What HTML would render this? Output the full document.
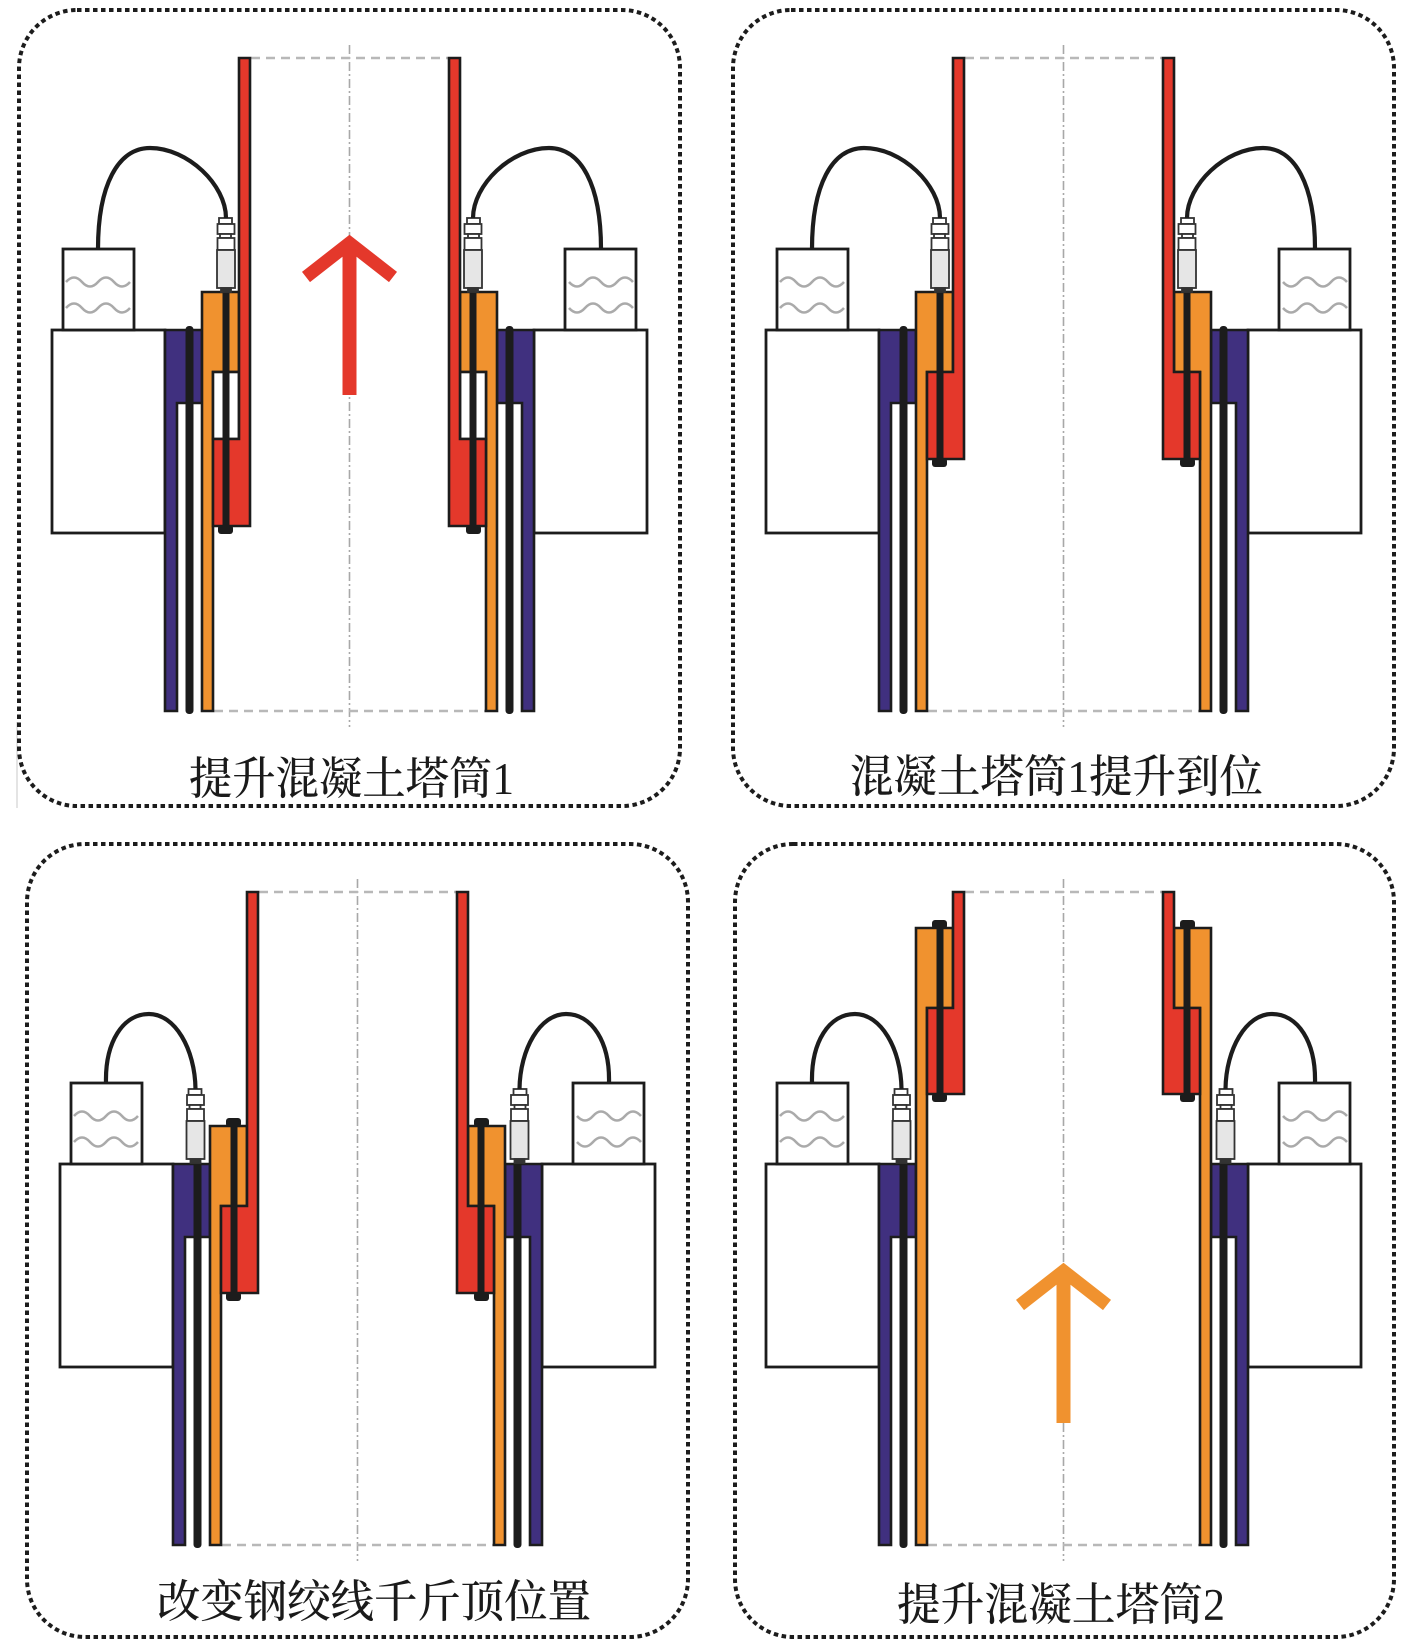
<!DOCTYPE html>
<html>
<head>
<meta charset="utf-8">
<style>
  html,body{margin:0;padding:0;background:#fff;}
  svg{display:block;}
</style>
</head>
<body>
<svg width="1417" height="1652" viewBox="0 0 1417 1652" xmlns="http://www.w3.org/2000/svg">
<defs>
  <g id="conn" stroke="#333" stroke-width="1.8">
    <rect x="219" y="218" width="13" height="6" fill="#fff"/>
    <rect x="217.5" y="224" width="17" height="10" fill="#fff"/>
    <rect x="220" y="234" width="11" height="4" fill="#fff"/>
    <rect x="217.5" y="238" width="17" height="12" fill="#fff"/>
    <rect x="217" y="250" width="18" height="38" fill="#e6e6e6"/>
    <rect x="221" y="288" width="10" height="4" fill="#333"/>
  </g>
  <g id="common">
    <rect x="52" y="330" width="113" height="203" fill="#fff" stroke="#1c1c1c" stroke-width="2.8"/>
    <rect x="63" y="249" width="71" height="81" fill="#fff" stroke="#1c1c1c" stroke-width="2.8"/>
    <path d="M66 282 q8 -9 16 0 t16 0 t16 0 t16 0" fill="none" stroke="#aaaaaa" stroke-width="2.5"/>
    <path d="M66 308 q8 -9 16 0 t16 0 t16 0 t16 0" fill="none" stroke="#aaaaaa" stroke-width="2.5"/>
    <path d="M165 330 H202 V403 H177 V711 H165 Z" fill="#40307F" stroke="#1c1c1c" stroke-width="2.6"/>
    <rect x="185.5" y="326" width="8" height="388" rx="3.5" fill="#1c1c1c"/>
  </g>
  <g id="lines" fill="none">
    <line x1="349.5" y1="45" x2="349.5" y2="727" stroke="#a8a8a8" stroke-width="1.6" stroke-dasharray="9 3 2 3"/>
    <line x1="251" y1="58" x2="448" y2="58" stroke="#b8b8b8" stroke-width="2.5" stroke-dasharray="9 6"/>
    <line x1="214" y1="711" x2="485" y2="711" stroke="#b8b8b8" stroke-width="2.5" stroke-dasharray="9 6"/>
  </g>

  <g id="tlL">
    <use href="#common"/>
    <path d="M202 292 H239 V372 H213 V711 H202 Z" fill="#F0922F" stroke="#1c1c1c" stroke-width="2.6"/>
    <rect x="213" y="372" width="26" height="67" fill="#fff" stroke="#1c1c1c" stroke-width="2.6"/>
    <path d="M239 58 H250 V526 H213 V439 H239 Z" fill="#E4382B" stroke="#1c1c1c" stroke-width="2.6"/>
    <rect x="222.5" y="290" width="7" height="240" fill="#1c1c1c"/>
    <rect x="218" y="525" width="15" height="9" rx="3" fill="#1c1c1c"/>
    <use href="#conn"/>
    <path d="M98 249 C98 185 118 148 150 148 C188 148 226 185 226 218" fill="none" stroke="#1c1c1c" stroke-width="4.2"/>
  </g>

  <g id="trL">
    <use href="#common"/>
    <path d="M202 292 H239 V372 H213 V711 H202 Z" fill="#F0922F" stroke="#1c1c1c" stroke-width="2.6"/>
    <path d="M239 58 H250 V459 H213 V372 H239 Z" fill="#E4382B" stroke="#1c1c1c" stroke-width="2.6"/>
    <rect x="222.5" y="290" width="7" height="172" fill="#1c1c1c"/>
    <rect x="218" y="458" width="15" height="9" rx="3" fill="#1c1c1c"/>
    <use href="#conn"/>
    <path d="M98 249 C98 185 118 148 150 148 C188 148 226 185 226 218" fill="none" stroke="#1c1c1c" stroke-width="4.2"/>
  </g>

  <g id="blL">
    <use href="#common"/>
    <path d="M202 292 H239 V372 H213 V711 H202 Z" fill="#F0922F" stroke="#1c1c1c" stroke-width="2.6"/>
    <path d="M239 58 H250 V459 H213 V372 H239 Z" fill="#E4382B" stroke="#1c1c1c" stroke-width="2.6"/>
    <rect x="222.5" y="287" width="7" height="175" fill="#1c1c1c"/>
    <rect x="218" y="284" width="15" height="9" rx="3" fill="#1c1c1c"/>
    <rect x="218" y="458" width="15" height="9" rx="3" fill="#1c1c1c"/>
    <use href="#conn" transform="translate(-38.5,37)"/>
    <path d="M98 249 C97 208 115 180 141 180 C167 180 187 215 187.5 255" fill="none" stroke="#1c1c1c" stroke-width="4.2"/>
  </g>

  <g id="brL">
    <use href="#common"/>
    <path d="M202 94 H239 V174 H213 V711 H202 Z" fill="#F0922F" stroke="#1c1c1c" stroke-width="2.6"/>
    <path d="M239 58 H250 V260 H213 V174 H239 Z" fill="#E4382B" stroke="#1c1c1c" stroke-width="2.6"/>
    <rect x="222.5" y="89" width="7" height="175" fill="#1c1c1c"/>
    <rect x="218" y="86" width="15" height="9" rx="3" fill="#1c1c1c"/>
    <rect x="218" y="259" width="15" height="9" rx="3" fill="#1c1c1c"/>
    <use href="#conn" transform="translate(-38.5,37)"/>
    <path d="M98 249 C97 208 115 180 141 180 C167 180 187 215 187.5 255" fill="none" stroke="#1c1c1c" stroke-width="4.2"/>
  </g>
</defs>

<rect x="0" y="0" width="1417" height="1652" fill="#fff"/>

<line x1="17" y1="722" x2="17" y2="808" stroke="#c8c8c8" stroke-width="1"/>

<!-- TL -->
<g>
  <rect x="19" y="10" width="661" height="796" rx="58" ry="58" fill="none" stroke="#1c1c1c" stroke-width="4" stroke-dasharray="4.5 3.5"/>
  <use href="#lines"/>
  <use href="#tlL"/>
  <use href="#tlL" transform="translate(699,0) scale(-1,1)"/>
  <polyline points="306,277 349.5,243 393,277" fill="none" stroke="#E4382B" stroke-width="13" stroke-linejoin="miter" stroke-miterlimit="10"/>
  <rect x="342.5" y="243" width="14" height="152" fill="#E4382B"/>
</g>

<!-- TR -->
<g transform="translate(714,0)">
  <rect x="19" y="10" width="661" height="796" rx="58" ry="58" fill="none" stroke="#1c1c1c" stroke-width="4" stroke-dasharray="4.5 3.5"/>
  <use href="#lines"/>
  <use href="#trL"/>
  <use href="#trL" transform="translate(699,0) scale(-1,1)"/>
</g>

<!-- BL -->
<g transform="translate(8,834)">
  <rect x="19" y="10" width="661" height="793" rx="58" ry="58" fill="none" stroke="#1c1c1c" stroke-width="4" stroke-dasharray="4.5 3.5"/>
  <use href="#lines"/>
  <use href="#blL"/>
  <use href="#blL" transform="translate(699,0) scale(-1,1)"/>
</g>

<!-- BR -->
<g transform="translate(714,834)">
  <rect x="21" y="10" width="659" height="793" rx="58" ry="58" fill="none" stroke="#1c1c1c" stroke-width="4" stroke-dasharray="4.5 3.5"/>
  <use href="#lines"/>
  <use href="#brL"/>
  <use href="#brL" transform="translate(699,0) scale(-1,1)"/>
  <g transform="translate(0,194)">
    <polyline points="306,277 349.5,243 393,277" fill="none" stroke="#F0922F" stroke-width="13" stroke-linejoin="miter" stroke-miterlimit="10"/>
    <rect x="342.5" y="243" width="14" height="152" fill="#F0922F"/>
  </g>
</g>

<g font-family="'Liberation Serif', 'Noto Serif CJK SC', serif" font-size="45" font-weight="500" fill="#1a1a1a">
  <text x="189" y="794" textLength="325" lengthAdjust="spacingAndGlyphs">提升混凝土塔筒1</text>
  <text x="850" y="792" textLength="413" lengthAdjust="spacingAndGlyphs">混凝土塔筒1提升到位</text>
  <text x="157" y="1617" textLength="434" lengthAdjust="spacingAndGlyphs">改变钢绞线千斤顶位置</text>
  <text x="897" y="1620" textLength="328" lengthAdjust="spacingAndGlyphs">提升混凝土塔筒2</text>
</g>
</svg>
</body>
</html>
